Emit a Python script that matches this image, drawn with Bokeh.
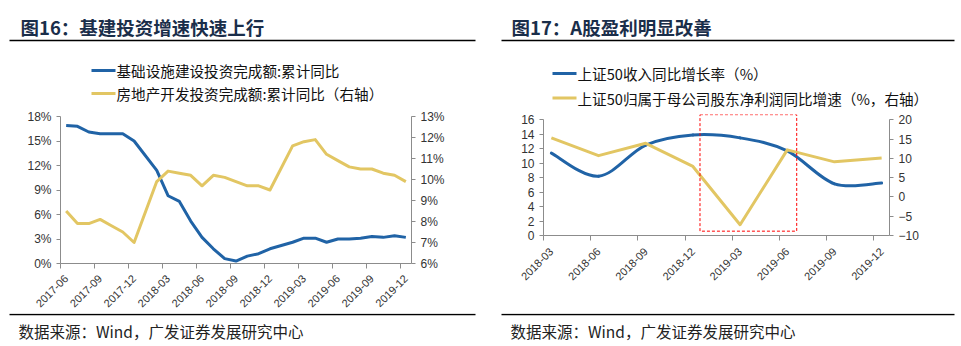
import math
from bokeh.plotting import figure
from bokeh.models import Range1d, LinearAxis, FixedTicker, BoxAnnotation
from bokeh.layouts import row, column
from bokeh.embed import file_html
from bokeh.resources import INLINE
from bokeh.core.properties import value

# ---------------- data: left panel (monthly, cumulative YoY %) ----------------
month_labels = ["2017-06", "2017-07", "2017-08", "2017-09", "2017-10", "2017-11", "2017-12",
                "2018-01", "2018-02", "2018-03", "2018-04", "2018-05", "2018-06", "2018-07",
                "2018-08", "2018-09", "2018-10", "2018-11", "2018-12", "2019-01", "2019-02",
                "2019-03", "2019-04", "2019-05", "2019-06", "2019-07", "2019-08", "2019-09",
                "2019-10", "2019-11", "2019-12"]
data_months = ["2017-06", "2017-07", "2017-08", "2017-09", "2017-10", "2017-11", "2017-12",
               "2018-02", "2018-03", "2018-04", "2018-05", "2018-06", "2018-07", "2018-08",
               "2018-09", "2018-10", "2018-11", "2018-12", "2019-02", "2019-03", "2019-04",
               "2019-05", "2019-06", "2019-07", "2019-08", "2019-09", "2019-10", "2019-11",
               "2019-12"]
infra_yoy = [16.9, 16.8, 16.1, 15.9, 15.9, 15.9, 15.0,
             11.4, 8.3, 7.6, 5.2, 3.2, 1.8, 0.6,
             0.3, 0.9, 1.2, 1.8, 2.6, 3.1, 3.1,
             2.6, 3.0, 3.0, 3.1, 3.3, 3.2, 3.4,
             3.2]
realty_yoy = [8.5, 7.9, 7.9, 8.1, 7.8, 7.5, 7.0,
              9.9, 10.4, 10.3, 10.2, 9.7, 10.2, 10.1,
              9.9, 9.7, 9.7, 9.5, 11.6, 11.8, 11.9,
              11.2, 10.9, 10.6, 10.5, 10.5, 10.3, 10.2,
              9.9]
left_ticks_pct = [0, 3, 6, 9, 12, 15, 18]
right_ticks_pct = [6, 7, 8, 9, 10, 11, 12, 13]
left_x_tick_labels = ["2017-06", "2017-09", "2017-12", "2018-03", "2018-06", "2018-09",
                      "2018-12", "2019-03", "2019-06", "2019-09", "2019-12"]

# ---------------- data: right panel (quarterly, %) ----------------
quarters = ["2018-03", "2018-06", "2018-09", "2018-12", "2019-03", "2019-06", "2019-09", "2019-12"]
sz50_revenue = [11.4, 8.2, 12.5, 13.9, 13.5, 11.7, 7.15, 7.25]
sz50_profit = [15.3, 10.7, 13.9, 7.9, -7.2, 12.2, 9.1, 10.1]
r_left_ticks = [0, 2, 4, 6, 8, 10, 12, 14, 16]
r_right_ticks = [-10, -5, 0, 5, 10, 15, 20]
highlight_quarters = ["2019-03", "2019-06"]   # quarters framed by the red dashed box

BLUE = "#2063A6"
GOLD = "#E2C663"
AXIS = "#8c8c8c"
TITLE_C = "#1A2E4A"
CJK = "Noto Sans CJK SC"


def style_axis(ax, size="12px"):
    ax.axis_line_color = AXIS
    ax.major_tick_line_color = AXIS
    ax.major_tick_out = 4
    ax.major_tick_in = 0
    ax.minor_tick_line_color = None
    ax.major_label_text_font = "Liberation Sans"
    ax.major_label_text_font_size = size
    ax.major_label_text_color = "#333333"
    ax.major_label_standoff = 5


def style_date_axis(ax, standoff):
    # labels sit under the data points, tick marks sit on the period boundaries
    ax.major_tick_out = 0
    ax.minor_tick_out = 5
    ax.minor_tick_in = 0
    ax.minor_tick_line_color = AXIS
    ax.major_label_orientation = math.pi / 4
    ax.major_label_text_font_size = "11px"
    ax.major_label_standoff = standoff


def blank(w, h):
    p = figure(width=w, height=h, x_range=Range1d(0, w), y_range=Range1d(h, 0),
               min_border=0, toolbar_location=None, output_backend="svg",
               x_axis_type=None, y_axis_type=None)
    p.grid.visible = False
    p.outline_line_color = None
    return p


def put_text(p, x, y, txt, size, bold=False, color="#111111"):
    p.text(x=[x], y=[y], text=[txt], text_font=value(CJK), text_font_size=size,
           text_font_style="bold" if bold else "normal", text_color=color,
           text_baseline="middle", text_align="left")


# ---------------- header (titles, rules, legends) and footer ----------------
hdr = blank(961, 108)
foot = blank(961, 33)
panels = [
    dict(title=(20, 26, "图16：基建投资增速快速上行"), rule=(9, 475), src=18, lx=91,
         legend=[(70, "基础设施建设投资完成额:累计同比", BLUE),
                 (93, "房地产开发投资完成额:累计同比（右轴）", GOLD)]),
    dict(title=(511, 26, "图17：A股盈利明显改善"), rule=(501, 954), src=510, lx=552,
         legend=[(73, "上证50收入同比增长率（%）", BLUE),
                 (97.5, "上证50归属于母公司股东净利润同比增速（%，右轴）", GOLD)]),
]
for pn in panels:
    tx, ty, tt = pn["title"]
    put_text(hdr, tx, ty, tt, "18.5px", bold=True, color=TITLE_C)
    hdr.line(x=list(pn["rule"]), y=[40, 40], line_color="#000000", line_width=1.5)
    for (ly, txt, col) in pn["legend"]:
        hdr.line(x=[pn["lx"], pn["lx"] + 24], y=[ly, ly], line_color=col, line_width=3)
        put_text(hdr, pn["lx"] + 25, ly, txt, "14.6px")
    foot.line(x=list(pn["rule"]), y=[1, 1], line_color="#000000", line_width=1.5)
    put_text(foot, pn["src"], 17, "数据来源：Wind，广发证券发展研究中心", "15.5px", color="#222222")

# ---------------- left chart ----------------
lx = [month_labels.index(m) for m in data_months]
c1 = figure(width=480, height=205, x_range=Range1d(-0.5, len(month_labels) - 0.5),
            y_range=Range1d(0, 18), toolbar_location=None, output_backend="svg",
            min_border_left=60, min_border_right=69, min_border_top=8, min_border_bottom=50)
c1.grid.visible = False
c1.outline_line_color = None
c1.extra_y_ranges = {"r": Range1d(6, 13)}
c1.line(lx, infra_yoy, line_color=BLUE, line_width=3, line_join="round")
c1.line(lx, realty_yoy, line_color=GOLD, line_width=3, line_join="round", y_range_name="r")
xl = [month_labels.index(m) for m in left_x_tick_labels]
c1.xaxis.ticker = FixedTicker(ticks=xl, minor_ticks=[v - 0.5 for v in xl])
c1.xaxis.major_label_overrides = {t: lab for t, lab in zip(xl, left_x_tick_labels)}
c1.yaxis.ticker = FixedTicker(ticks=left_ticks_pct)
c1.yaxis.major_label_overrides = {t: f"{t}%" for t in left_ticks_pct}
ra = LinearAxis(y_range_name="r", ticker=FixedTicker(ticks=right_ticks_pct),
                major_label_overrides={t: f"{t}%" for t in right_ticks_pct})
c1.add_layout(ra, "right")
for ax in [c1.xaxis[0], c1.yaxis[0], ra]:
    style_axis(ax)
style_date_axis(c1.xaxis[0], 8)

# ---------------- right chart ----------------
rx = [3 * i + 0.5 for i in range(len(quarters))]
R_TOP = 16 * 121 / 115.7          # headroom above the 16 tick for the dashed box
R2_TOP = -10 + 30 * R_TOP / 16.0
c2 = figure(width=481, height=205, x_range=Range1d(0, 22), y_range=Range1d(0, R_TOP),
            toolbar_location=None, output_backend="svg",
            min_border_left=63, min_border_right=72, min_border_top=6, min_border_bottom=78)
c2.grid.visible = False
c2.outline_line_color = None
c2.extra_y_ranges = {"r": Range1d(-10, R2_TOP)}
n = len(rx)
x0s, y0s, x1s, y1s, cx0s, cy0s, cx1s, cy1s = [], [], [], [], [], [], [], []
for i in range(n - 1):
    a = max(i - 1, 0)
    d = min(i + 2, n - 1)
    x0s.append(rx[i]); y0s.append(sz50_revenue[i])
    x1s.append(rx[i + 1]); y1s.append(sz50_revenue[i + 1])
    cx0s.append(rx[i] + (rx[i + 1] - rx[a]) / 6.0)
    cy0s.append(sz50_revenue[i] + (sz50_revenue[i + 1] - sz50_revenue[a]) / 6.0)
    cx1s.append(rx[i + 1] - (rx[d] - rx[i]) / 6.0)
    cy1s.append(sz50_revenue[i + 1] - (sz50_revenue[d] - sz50_revenue[i]) / 6.0)
c2.bezier(x0=x0s, y0=y0s, x1=x1s, y1=y1s, cx0=cx0s, cy0=cy0s, cx1=cx1s, cy1=cy1s,
          line_color=BLUE, line_width=3, line_cap="round")
c2.line(rx, sz50_profit, line_color=GOLD, line_width=3, line_join="round", y_range_name="r")
c2.xaxis.ticker = FixedTicker(ticks=rx, minor_ticks=[v - 0.5 for v in rx])
c2.xaxis.major_label_overrides = {t: lab for t, lab in zip(rx, quarters)}
c2.yaxis.ticker = FixedTicker(ticks=r_left_ticks)
c2.yaxis.bounds = (0, 16)
ra2 = LinearAxis(y_range_name="r", ticker=FixedTicker(ticks=r_right_ticks), bounds=(-10, 20))
c2.add_layout(ra2, "right")
for ax in [c2.xaxis[0], c2.yaxis[0], ra2]:
    style_axis(ax)
style_date_axis(c2.xaxis[0], 9)
h0 = rx[quarters.index(highlight_quarters[0])]
h1 = rx[quarters.index(highlight_quarters[1])]
c2.add_layout(BoxAnnotation(left=h0 - 2.55, right=h1 + 0.6, bottom=0.6, top=R_TOP - 0.02,
                            fill_color=None, line_color="#FF0000", line_alpha=1.0, line_width=1,
                            line_dash="3 2"))

layout = column(column(hdr), row(column(c1), column(c2)), column(foot))
open("out.html", "w").write(file_html(layout, INLINE))
